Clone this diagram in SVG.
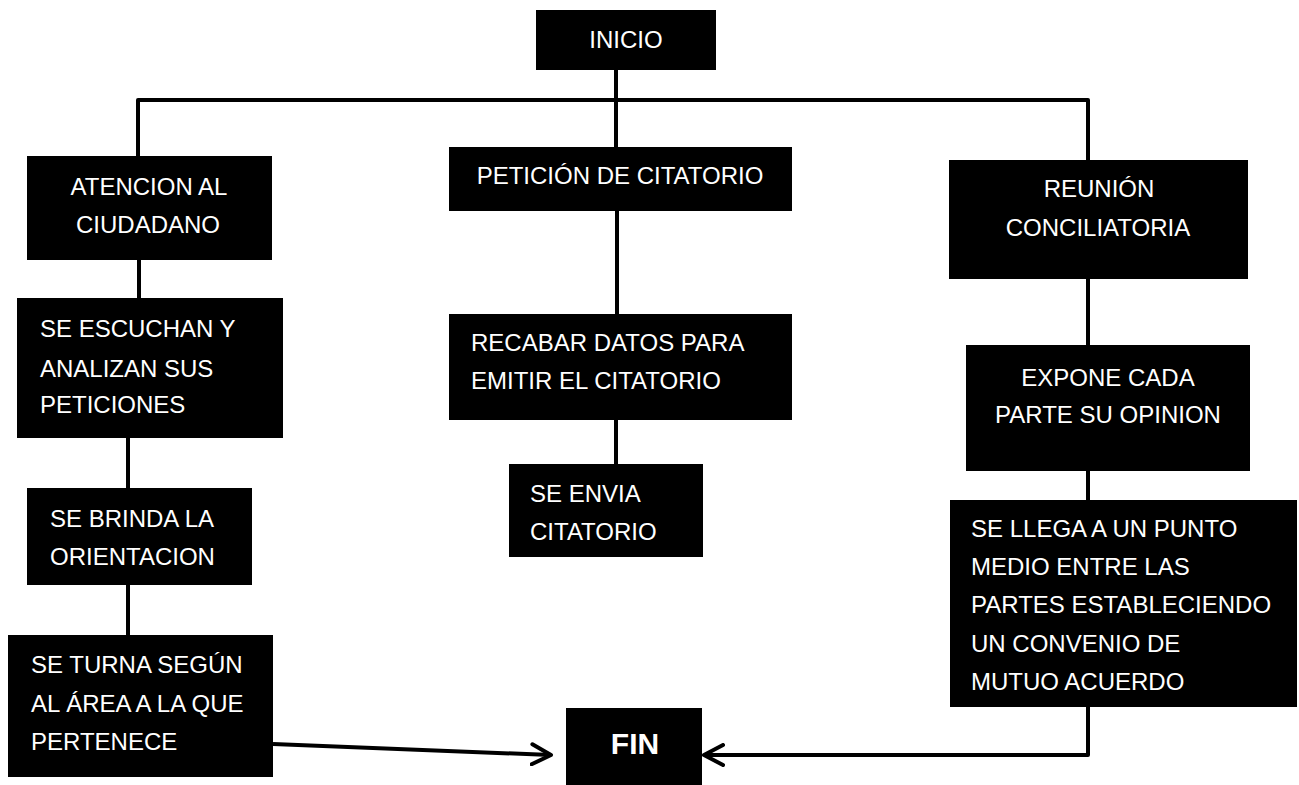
<svg xmlns="http://www.w3.org/2000/svg" width="1299" height="785" viewBox="0 0 1299 785">
<style>
.box{fill:#000}
.t{font-family:"Liberation Sans",Arial,sans-serif;font-size:24px;fill:#fff}
.c{text-anchor:middle}
.ln{stroke:#000;stroke-width:4;fill:none;stroke-linejoin:round}
.fin{font-family:"Liberation Sans",Arial,sans-serif;font-size:30px;font-weight:bold;fill:#fff;text-anchor:middle}
</style>
<defs>
<marker id="chev" viewBox="0 0 24 24" refX="21" refY="12" markerWidth="24" markerHeight="24" markerUnits="userSpaceOnUse" orient="auto">
<path d="M2,2 L21,12 L2,22" fill="none" stroke="#000" stroke-width="4" stroke-linecap="round" stroke-linejoin="round"/>
</marker>
</defs>
<rect width="1299" height="785" fill="#fff"/>
<g id="connectors">
<path class="ln" d="M138,156 V100 H1088 V160"/>
<path class="ln" d="M616,70 V147"/>
<path class="ln" d="M617,211 V314"/>
<path class="ln" d="M616,420 V464"/>
<path class="ln" d="M139,260 V298"/>
<path class="ln" d="M128,438 V488"/>
<path class="ln" d="M128,585 V635"/>
<path class="ln" d="M1088,279 V345"/>
<path class="ln" d="M1088,471 V500"/>
<path class="ln" d="M273,744 L551,755" marker-end="url(#chev)"/>
<path class="ln" d="M1088,707 V755 H704" marker-end="url(#chev)"/>
</g>
<g id="inicio"><rect class="box" x="536" y="10" width="180" height="60"/><text class="t c" x="626" y="48">INICIO</text></g>
<g id="atencion"><rect class="box" x="27" y="156" width="245" height="104"/><text class="t c" x="149" y="195">ATENCION AL</text><text class="t c" x="148" y="233">CIUDADANO</text></g>
<g id="peticion"><rect class="box" x="449" y="147" width="343" height="64"/><text class="t c" x="620" y="184">PETICIÓN DE CITATORIO</text></g>
<g id="reunion"><rect class="box" x="949" y="160" width="299" height="119"/><text class="t c" x="1099" y="197">REUNIÓN</text><text class="t c" x="1098" y="236">CONCILIATORIA</text></g>
<g id="escuchan"><rect class="box" x="17" y="298" width="266" height="140"/><text class="t" x="40" y="337">SE ESCUCHAN Y</text><text class="t" x="40" y="377">ANALIZAN SUS</text><text class="t" x="40" y="413">PETICIONES</text></g>
<g id="recabar"><rect class="box" x="449" y="314" width="343" height="106"/><text class="t" x="471" y="351">RECABAR DATOS PARA</text><text class="t" x="471" y="389">EMITIR EL CITATORIO</text></g>
<g id="expone"><rect class="box" x="966" y="345" width="284" height="126"/><text class="t c" x="1108" y="386">EXPONE CADA</text><text class="t c" x="1108" y="423">PARTE SU OPINION</text></g>
<g id="brinda"><rect class="box" x="27" y="488" width="225" height="97"/><text class="t" x="50" y="527">SE BRINDA LA</text><text class="t" x="50" y="565">ORIENTACION</text></g>
<g id="envia"><rect class="box" x="509" y="464" width="194" height="93"/><text class="t" x="530" y="502">SE ENVIA</text><text class="t" x="530" y="540">CITATORIO</text></g>
<g id="llega"><rect class="box" x="950" y="500" width="347" height="207"/><text class="t" x="971" y="537">SE LLEGA A UN PUNTO</text><text class="t" x="971" y="575">MEDIO ENTRE LAS</text><text class="t" x="971" y="613">PARTES ESTABLECIENDO</text><text class="t" x="971" y="652">UN CONVENIO DE</text><text class="t" x="971" y="690">MUTUO ACUERDO</text></g>
<g id="turna"><rect class="box" x="8" y="635" width="265" height="142"/><text class="t" x="31" y="673">SE TURNA SEGÚN</text><text class="t" x="31" y="712">AL ÁREA A LA QUE</text><text class="t" x="31" y="750">PERTENECE</text></g>
<g id="fin"><rect class="box" x="566" y="708" width="136" height="77"/><text class="fin" x="635" y="754">FIN</text></g>
</svg>
